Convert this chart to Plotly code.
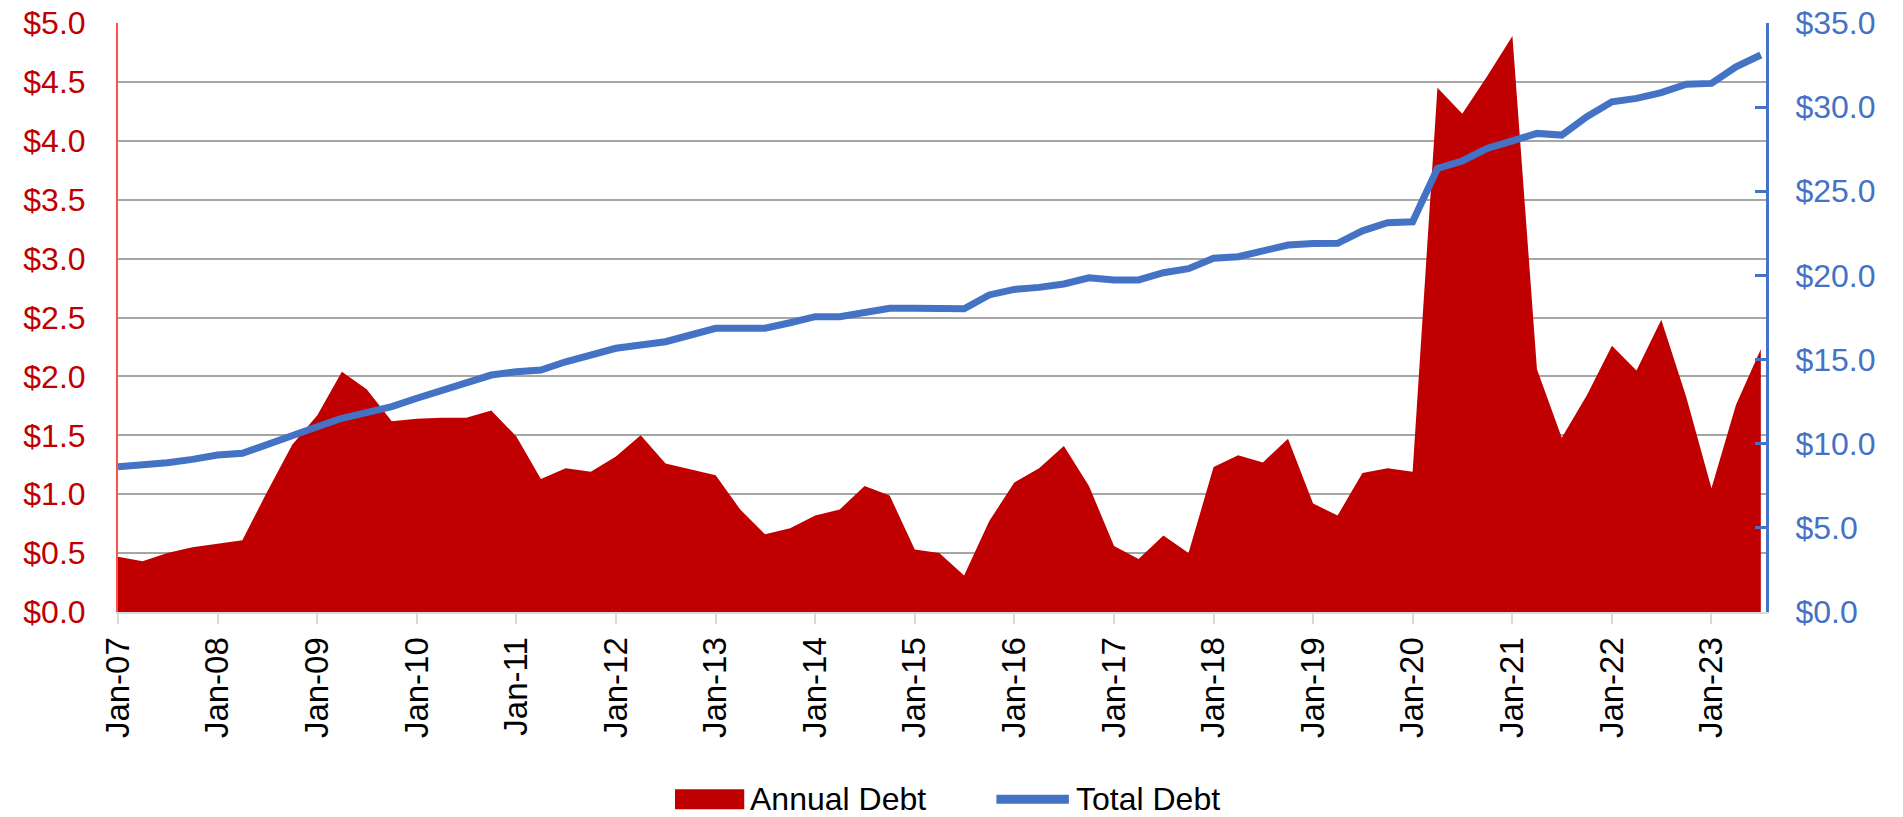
import pandas as pd
import plotly.graph_objects as go

# quarterly observations, Jan-07 .. Jul-23
quarters = pd.date_range("2007-01-01", periods=67, freq="QS")

annual_debt = [
    0.47, 0.43, 0.50, 0.55, 0.58, 0.61, 1.02, 1.42,
    1.67, 2.04, 1.89, 1.62, 1.64, 1.65, 1.65, 1.71,
    1.49, 1.13, 1.22, 1.19, 1.32, 1.50, 1.26, 1.21,
    1.16, 0.87, 0.66, 0.71, 0.82, 0.87, 1.07, 0.99,
    0.53, 0.50, 0.31, 0.77, 1.10, 1.22, 1.41, 1.07,
    0.56, 0.45, 0.65, 0.50, 1.23, 1.33, 1.27, 1.47,
    0.92, 0.82, 1.18, 1.22, 1.19, 4.45, 4.23, 4.55,
    4.89, 2.06, 1.48, 1.84, 2.26, 2.05, 2.48, 1.82,
    1.05, 1.76, 2.23,
]

total_debt = [
    8.63, 8.73, 8.87, 9.07, 9.33, 9.43, 9.92, 10.52,
    11.01, 11.51, 11.81, 12.20, 12.70, 13.19, 13.59, 14.08,
    14.28, 14.38, 14.87, 15.27, 15.67, 15.87, 16.06, 16.46,
    16.86, 16.86, 16.86, 17.19, 17.55, 17.55, 17.75, 18.05,
    18.05, 18.02, 18.02, 18.84, 19.17, 19.29, 19.49, 19.86,
    19.73, 19.73, 20.16, 20.40, 21.02, 21.11, 21.47, 21.81,
    21.89, 21.91, 22.65, 23.13, 23.19, 26.36, 26.80, 27.55,
    28.00, 28.44, 28.34, 29.43, 30.32, 30.52, 30.86, 31.36,
    31.41, 32.40, 33.10,
]

RED = "#C00000"
BLUE = "#4472C4"
FONT = "Liberation Sans, Arial, sans-serif"

fig = go.Figure()
fig.add_trace(go.Scatter(x=quarters, y=annual_debt, name="Annual Debt", mode="lines",
                         line=dict(width=0, color=RED), fill="tozeroy", fillcolor=RED,
                         yaxis="y"))
fig.add_trace(go.Scatter(x=quarters, y=total_debt, name="Total Debt", mode="lines",
                         line=dict(width=7, color=BLUE), yaxis="y2"))

# hand-made legend below the plot (page body margin shifts figure by 8px)
leg_y = -0.318
fig.add_shape(type="rect", xref="paper", yref="paper", x0=0.338, x1=0.380,
              y0=leg_y + 0.017, y1=leg_y - 0.017, fillcolor=RED, line_width=0)
fig.add_shape(type="line", xref="paper", yref="paper", x0=0.533, x1=0.577, y0=leg_y, y1=leg_y,
              line=dict(color=BLUE, width=9))
fig.add_annotation(text="Annual Debt", xref="paper", yref="paper", x=0.3825, y=leg_y,
                   xanchor="left", yanchor="middle", showarrow=False,
                   font=dict(size=32, color="#000000", family=FONT))
fig.add_annotation(text="Total Debt", xref="paper", yref="paper", x=0.5800, y=leg_y,
                   xanchor="left", yanchor="middle", showarrow=False,
                   font=dict(size=32, color="#000000", family=FONT))

fig.update_layout(
    width=1895, height=809,
    margin=dict(l=110, r=137, t=15, b=205),
    paper_bgcolor="white", plot_bgcolor="white",
    showlegend=False,
    font=dict(family=FONT),
    xaxis=dict(type="date", range=["2007-01-01", "2023-07-20"], automargin=False,
               tick0="2007-01-01", dtick="M12", tickformat="%b-%y", tickangle=-90,
               tickfont=dict(size=33, color="#000000"),
               showgrid=False, showline=True, linecolor="#D9D9D9", linewidth=2,
               ticks="outside", ticklen=10, tickwidth=2, tickcolor="#D9D9D9"),
    yaxis=dict(range=[0, 5], dtick=0.5, tickprefix="$", tickformat=".1f", automargin=False,
               tickfont=dict(size=32, color=RED), ticklabeloverflow="allow",
               showgrid=True, gridcolor="#A6A6A6", gridwidth=2, zeroline=False,
               showline=True, linecolor="#FF5050", linewidth=2, ticks="",
               ticklabelstandoff=24),
    yaxis2=dict(range=[0, 35], dtick=5, tickprefix="$", tickformat=".1f", automargin=False,
                overlaying="y", side="right",
                tickfont=dict(size=32, color=BLUE), ticklabeloverflow="allow",
                showgrid=False, zeroline=False,
                showline=True, linecolor=BLUE, linewidth=3,
                ticks="inside", ticklen=11, tickwidth=3, tickcolor=BLUE,
                ticklabelstandoff=20),
)

fig.write_html("out.html")
